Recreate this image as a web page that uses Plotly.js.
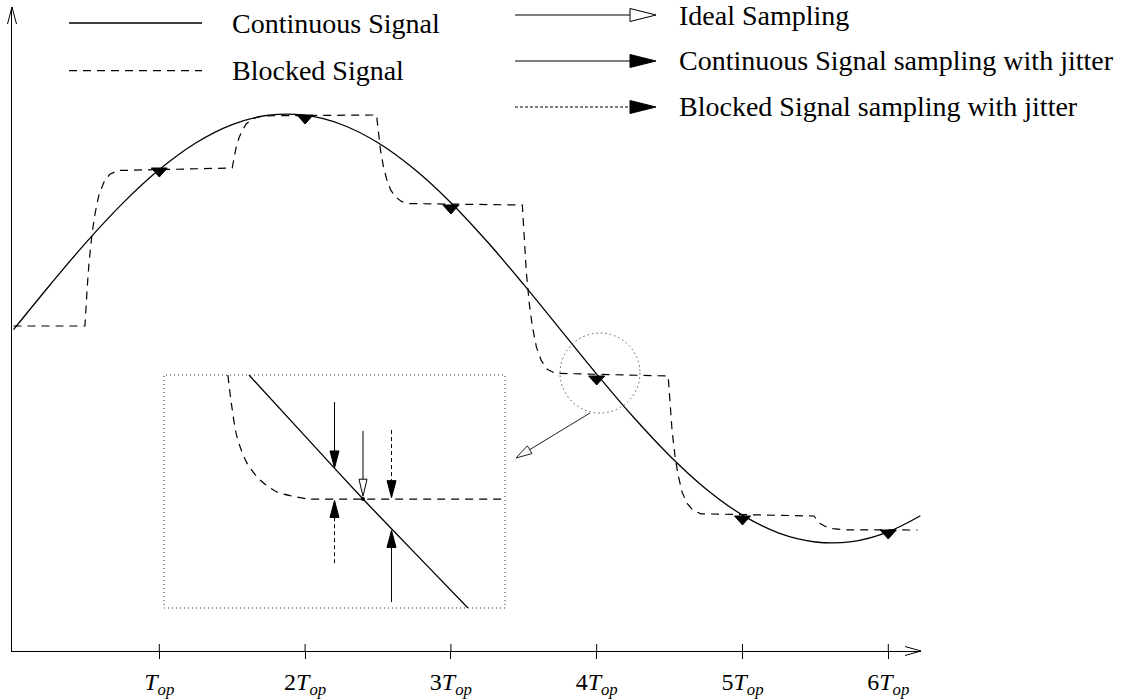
<!DOCTYPE html>
<html>
<head>
<meta charset="utf-8">
<script src="https://cdn.plot.ly/plotly-3.0.1.min.js"></script>
<style>html,body{margin:0;padding:0;background:#fff}#chart{width:1123px;height:700px}</style>
</head>
<body>
<div id="chart"></div>
<script>
// ================= DATA (time in units of T_op, amplitude in arbitrary units) =================
// Continuous signal
const contT = [0,0.25,0.5,0.75,1,1.25,1.5,1.75,2,2.25,2.5,2.75,3,3.25,3.5,3.75,4,4.25,4.5,4.75,5,5.25,5.5,5.75,6,6.22];
const contV = [3.213,3.660,4.089,4.479,4.814,5.080,5.264,5.358,5.358,5.265,5.082,4.817,4.483,4.092,3.663,3.216,2.769,2.342,1.953,1.621,1.359,1.179,1.090,1.094,1.192,1.352];

// Blocked signal (held levels with settling transitions)
const blockT = [0,
  0.490,0.504,0.517,0.538,0.559,0.586,0.620,0.661,0.716,
  1.500,1.514,1.527,1.548,1.569,1.596,1.630,1.671,1.726,
  2.490,2.504,2.517,2.538,2.559,2.586,2.620,2.661,2.716,
  3.490,3.504,3.517,3.538,3.559,3.586,3.620,3.661,3.716,
  4.490,4.504,4.517,4.538,4.559,4.586,4.620,4.661,4.716,
  5.490,5.504,5.517,5.538,5.559,5.586,5.620,5.661,5.716,
  6.200];
const blockV = [3.250,
  3.250,3.598,3.866,4.166,4.372,4.561,4.688,4.767,4.805,
  4.830,4.947,5.037,5.137,5.206,5.270,5.312,5.337,5.352,
  5.360,5.162,5.009,4.838,4.721,4.613,4.541,4.496,4.474,
  4.460,4.084,3.793,3.468,3.246,3.041,2.904,2.818,2.777,
  2.750,2.442,2.204,1.938,1.756,1.588,1.476,1.406,1.372,
  1.350,1.319,1.295,1.269,1.251,1.234,1.223,1.216,1.212,
  1.210];

// Sampling instants (jittered samples of the blocked signal)
const sampleT = [1,2,3,4,5,6];
const sampleV = [4.83,5.36,4.46,2.75,1.35,1.21];
const tickText = ['<i>T<sub>op</sub></i>','2<i>T<sub>op</sub></i>','3<i>T<sub>op</sub></i>',
                  '4<i>T<sub>op</sub></i>','5<i>T<sub>op</sub></i>','6<i>T<sub>op</sub></i>'];

// Magnified view around the 4T_op sample (time offset in jitter units, amplitude offset from held level)
const insetContT = [-4.0,-2.0,0,2.0,3.68];
const insetContV = [4.35,2.17,0,-2.08,-3.82];
const insetBlockT = [-4.74,-4.60,-4.42,-4.07,-3.61,-3.02,-2.32,-1.86,-1.20,4.98];
const insetBlockV = [4.35,3.23,2.18,1.26,0.67,0.25,0.07,0,0,0];
const arrowT    = [-1, 0, 1, -1, 1];
const arrowTail = [3.40, 2.39, 2.42, -2.25, -3.61];
const arrowTip  = [1.09, 0.10, 0.05, -0.05, -1.10];
const arrowKind = ['cont','ideal','block','block','cont'];

// Legend labels
const legendLines = ['Continuous Signal','Blocked Signal'];
const legendArrows = ['Ideal Sampling','Continuous Signal sampling with jitter','Blocked Signal sampling with jitter'];

// ================= LAYOUT GEOMETRY =================
const W = 1123, H = 700;
const M = {l: 12, r: 202, t: 7, b: 49};
const PW = W - M.l - M.r, PH = H - M.t - M.b;
const pxPerT = 145.8, t0px = 1.5, pxPerV = 100;
const xr = [-t0px / pxPerT, (PW - t0px) / pxPerT];
const yr = [0, PH / pxPerV];
const SERIF = '"Liberation Serif", "Times New Roman", Times, serif';
const LEG_FONT = 28, TICK_FONT = 24;
const px2fx = p => (p - M.l) / PW;
const px2fy = p => (M.t + PH - p) / PH;

// inset box (pixel edges) and its scales
const inBox = {x0: 164, x1: 505, y0: 375, y1: 608};
const insetXR = [-6.98, 4.98], insetYR = [-3.82, 4.35];
const insetPPU = (inBox.y1 - inBox.y0) / (insetYR[1] - insetYR[0]);

// ================= HELPERS =================
function headShape(xref, yref, ax, ay, path, filled) {
  return {type: 'path', xref: xref, yref: yref, xsizemode: 'pixel', ysizemode: 'pixel',
          xanchor: ax, yanchor: ay, path: path,
          fillcolor: filled ? '#000' : '#fff', line: {color: '#000', width: 1}, layer: 'above'};
}
function vHeadPath(len, hw, down) {
  const b = down ? len : -len;
  return 'M0,0L' + (-hw) + ',' + b + 'L' + hw + ',' + b + 'Z';
}
function rHeadPath(len, hw) {
  return 'M0,0L' + (-len) + ',' + hw + 'L' + (-len) + ',' + (-hw) + 'Z';
}

// ================= TRACES =================
const traces = [];
traces.push({x: contT, y: contV, mode: 'lines', hoverinfo: 'skip',
  line: {color: '#000', width: 1.3, shape: 'spline', smoothing: 1}});
traces.push({x: blockT, y: blockV, mode: 'lines', hoverinfo: 'skip',
  line: {color: '#000', width: 1.2, dash: '8px,6px'}});
traces.push({x: insetContT, y: insetContV, xaxis: 'x3', yaxis: 'y3', mode: 'lines', hoverinfo: 'skip',
  line: {color: '#000', width: 1.3, shape: 'spline', smoothing: 0.6}});
traces.push({x: insetBlockT, y: insetBlockV, xaxis: 'x3', yaxis: 'y3', mode: 'lines', hoverinfo: 'skip',
  line: {color: '#000', width: 1.2, dash: '8px,6px', shape: 'spline', smoothing: 0.8}});

const shapes = [];
const HEAD_IN = 17, HW_IN = 4.5;
arrowT.forEach((t, i) => {
  const down = arrowTail[i] > arrowTip[i];
  const base = arrowTip[i] + (down ? 1 : -1) * (HEAD_IN / insetPPU);
  const kind = arrowKind[i];
  traces.push({x: [t, t], y: [arrowTail[i], base], xaxis: 'x3', yaxis: 'y3', mode: 'lines', hoverinfo: 'skip',
    line: {color: '#000', width: 1, dash: kind === 'block' ? '4px,3px' : 'solid'}});
  shapes.push(headShape('x3', 'y3', t, arrowTip[i], vHeadPath(HEAD_IN, kind === 'ideal' ? 4 : HW_IN, down), kind !== 'ideal'));
});
traces.push({x: [insetContT[2]], y: [insetContV[2]], xaxis: 'x3', yaxis: 'y3', mode: 'markers', hoverinfo: 'skip',
  marker: {size: 4, color: '#000'}});

// sample markers on main chart + upper half of the tick marks (ticks cross the axis)
sampleT.forEach((t, i) => {
  shapes.push(headShape('x', 'y', t, sampleV[i], 'M-8,0L8,0L0,-9Z', true));
  shapes.push({type: 'line', xref: 'x', yref: 'y', ysizemode: 'pixel', yanchor: yr[0], x0: t, x1: t, y0: 0, y1: 7,
    line: {color: '#000', width: 1}});
});

// inset frame
shapes.push({type: 'rect', xref: 'x3 domain', yref: 'y3 domain', x0: 0, x1: 1, y0: 0, y1: 1,
  line: {color: '#333', width: 1, dash: '1px,3px'}, fillcolor: 'rgba(0,0,0,0)', layer: 'above'});

// magnifier circle around 4T sample and pointer to the inset
const mi = 3;
shapes.push({type: 'circle', xref: 'x', yref: 'y', xsizemode: 'pixel', ysizemode: 'pixel',
  xanchor: sampleT[mi], yanchor: sampleV[mi], x0: -36.7, x1: 43.3, y0: -37, y1: 43,
  line: {color: '#555', width: 1, dash: '1.5px,3px'}, fillcolor: 'rgba(0,0,0,0)'});
(function () {
  const s = [-6.7, -37], tip = [-80.7, -82];
  const dx = tip[0] - s[0], dy = tip[1] - s[1], L = Math.hypot(dx, dy);
  const ux = dx / L, uy = dy / L, hl = 16, hw = 4.5;
  const bx = tip[0] - ux * hl, by = tip[1] - uy * hl;
  shapes.push({type: 'path', xref: 'x', yref: 'y', xsizemode: 'pixel', ysizemode: 'pixel',
    xanchor: sampleT[mi], yanchor: sampleV[mi], path: 'M' + s[0] + ',' + s[1] + 'L' + bx + ',' + by,
    line: {color: '#222', width: 1}});
  const p1 = [bx - uy * hw, by + ux * hw], p2 = [bx + uy * hw, by - ux * hw];
  shapes.push({type: 'path', xref: 'x', yref: 'y', xsizemode: 'pixel', ysizemode: 'pixel',
    xanchor: sampleT[mi], yanchor: sampleV[mi],
    path: 'M' + tip[0] + ',' + tip[1] + 'L' + p1[0] + ',' + p1[1] + 'L' + p2[0] + ',' + p2[1] + 'Z',
    fillcolor: '#fff', line: {color: '#222', width: 1}});
})();

// axis arrowheads
shapes.push({type: 'path', xref: 'paper', yref: 'paper', xsizemode: 'pixel', ysizemode: 'pixel',
  xanchor: 1, yanchor: 0, path: 'M-16,4.5L0,0L-16,-4.5', fillcolor: 'rgba(0,0,0,0)', line: {color: '#000', width: 1}});
shapes.push({type: 'path', xref: 'paper', yref: 'paper', xsizemode: 'pixel', ysizemode: 'pixel',
  xanchor: 0, yanchor: 1, path: 'M-4.5,-17L0,0L4.5,-17', fillcolor: 'rgba(0,0,0,0)', line: {color: '#000', width: 1}});

// ================= LEGEND (drawn) =================
const annotations = [];
const legLeftRows = [23, 70.7];
legendLines.forEach((txt, i) => {
  shapes.push({type: 'line', xref: 'paper', yref: 'paper', x0: px2fx(69), x1: px2fx(202),
    y0: px2fy(legLeftRows[i]), y1: px2fy(legLeftRows[i]),
    line: {color: '#000', width: i === 0 ? 1.3 : 1.2, dash: i === 0 ? 'solid' : '8px,6px'}});
  annotations.push({xref: 'paper', yref: 'paper', x: px2fx(230), y: px2fy(legLeftRows[i]), xanchor: 'left', yanchor: 'middle',
    text: txt, showarrow: false, font: {family: SERIF, size: LEG_FONT, color: '#000'}});
});
const legRightRows = [15, 61, 107];
const LH_LEN = 26, LH_HW = 6.5;
legendArrows.forEach((txt, i) => {
  const tipX = px2fx(656), y = px2fy(legRightRows[i]);
  shapes.push({type: 'line', xref: 'paper', yref: 'paper', x0: px2fx(515), x1: px2fx(656 - LH_LEN), y0: y, y1: y,
    line: {color: '#000', width: 1, dash: i === 2 ? '3px,2px' : 'solid'}});
  shapes.push(headShape('paper', 'paper', tipX, y, rHeadPath(LH_LEN, LH_HW), i !== 0));
  annotations.push({xref: 'paper', yref: 'paper', x: px2fx(677), y: y, xanchor: 'left', yanchor: 'middle',
    text: txt, showarrow: false, font: {family: SERIF, size: LEG_FONT, color: '#000'}});
});

// ================= LAYOUT =================
const hiddenAxis = {showgrid: false, zeroline: false, showline: false, showticklabels: false, ticks: '', fixedrange: true};
const layout = {
  width: W, height: H,
  margin: {l: M.l, r: M.r, t: M.t, b: M.b, pad: 0},
  paper_bgcolor: '#fff', plot_bgcolor: 'rgba(0,0,0,0)',
  showlegend: false,
  font: {family: SERIF, size: 20, color: '#000'},
  xaxis: {range: xr, showgrid: false, zeroline: false, showline: true, linecolor: '#000', linewidth: 1,
    tickmode: 'array', tickvals: sampleT, ticktext: tickText, ticks: 'outside', ticklen: 7, tickwidth: 1,
    tickcolor: '#000', tickfont: {family: SERIF, size: TICK_FONT, color: '#000'}, ticklabelstandoff: 2, fixedrange: true},
  yaxis: {range: yr, showgrid: false, zeroline: false, showline: true, linecolor: '#000', linewidth: 1,
    showticklabels: false, ticks: '', fixedrange: true},
  xaxis3: Object.assign({domain: [px2fx(inBox.x0), px2fx(inBox.x1)], anchor: 'y3', range: insetXR}, hiddenAxis),
  yaxis3: Object.assign({domain: [px2fy(inBox.y1), px2fy(inBox.y0)], anchor: 'x3', range: insetYR}, hiddenAxis),
  shapes: shapes,
  annotations: annotations
};

Plotly.newPlot('chart', traces, layout, {displayModeBar: false, staticPlot: true});
</script>
</body>
</html>
